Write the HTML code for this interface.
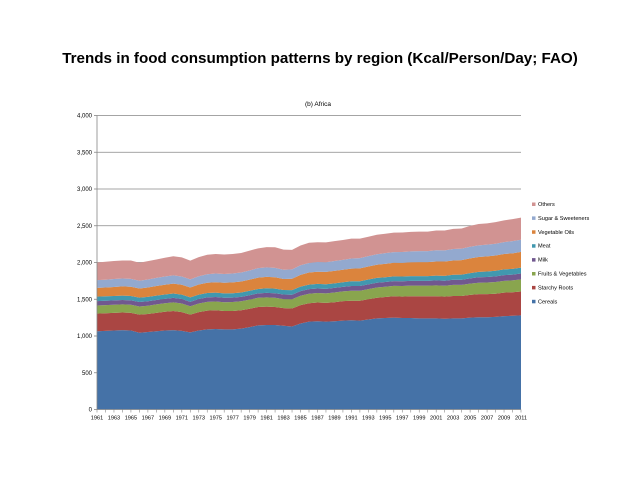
<!DOCTYPE html>
<html><head><meta charset="utf-8"><style>
body{margin:0;background:#fff;width:638px;height:479px;overflow:hidden;font-family:"Liberation Sans",sans-serif}
svg text{font-family:"Liberation Sans",sans-serif}
</style></head><body>
<svg id="c" width="638" height="479">
<text x="320" y="63" text-anchor="middle" font-size="15.2" font-weight="bold" fill="#000">Trends in food consumption patterns by region (Kcal/Person/Day; FAO)</text>
<text x="318" y="106" text-anchor="middle" font-size="6.5" fill="#000">(b) Africa</text>
<g id="grid"></g><g id="areas"></g><g id="axes"></g><g id="legend"></g>
</svg>
<script>
const years=[];for(let y=1961;y<=2011;y++)years.push(y);
const cereals=[1065,1070,1075,1080,1075,1045,1055,1065,1075,1080,1070,1050,1075,1090,1095,1090,1090,1100,1120,1145,1150,1150,1140,1130,1170,1195,1200,1195,1200,1210,1215,1210,1225,1240,1245,1250,1245,1245,1240,1240,1240,1235,1240,1240,1250,1255,1255,1260,1270,1275,1280];
const starchy=[240,240,240,240,240,245,245,250,255,260,255,240,250,255,255,250,250,250,250,250,250,245,240,245,250,250,255,255,260,265,265,270,275,280,285,290,290,295,300,300,300,300,305,305,310,315,315,315,320,320,325];
const fruits=[110,110,110,110,110,112,112,115,115,118,118,115,118,120,120,120,122,122,125,125,125,125,122,125,128,130,130,130,132,132,135,135,138,140,140,142,145,145,145,145,148,148,150,150,152,155,158,160,160,162,165];
const milk=[60,60,60,60,60,60,60,60,60,60,60,60,60,60,60,60,60,60,60,60,62,62,62,62,62,62,62,62,62,62,65,65,65,65,65,65,65,65,65,65,68,68,70,70,72,74,75,76,78,78,80];
const meat=[60,60,60,60,60,60,60,60,60,60,60,60,60,60,60,60,60,60,60,60,62,62,62,62,62,62,62,62,62,62,65,65,65,65,65,65,65,65,65,65,66,67,68,70,72,74,75,76,78,78,80];
const oils=[120,120,122,125,125,125,128,130,132,135,135,135,138,140,142,145,148,150,152,155,155,155,150,155,160,165,165,168,170,170,172,175,178,180,182,185,185,188,190,190,192,195,195,198,200,202,205,208,210,212,215];
const sugar=[105,105,108,108,108,105,108,110,112,112,112,110,112,115,118,118,120,122,125,128,130,128,125,128,130,130,132,132,135,135,138,140,140,142,145,145,148,148,150,150,152,152,155,155,158,158,160,160,162,165,165];
const others=[240,245,245,245,250,245,250,250,255,260,260,255,260,265,265,265,265,265,270,270,275,280,275,265,270,275,270,270,270,270,270,265,265,265,265,265,265,265,265,265,270,270,275,275,285,290,290,295,295,300,300];
const seriesNames=["Cereals","Starchy Roots","Fruits & Vegetables","Milk","Meat","Vegetable Oils","Sugar & Sweeteners","Others"];
const seriesData=[cereals,starchy,fruits,milk,meat,oils,sugar,others];
const colors=["#4572a7","#aa4643","#89a54e","#71588f","#4198af","#db843d","#93a9cf","#d19392"];
const yTicks=[0,500,1000,1500,2000,2500,3000,3500,4000];
const X0=97,X1=521,Y0=409.5,Y1=115.5;
const xs=y=>X0+(y-1961)*(X1-X0)/50;
const ys=v=>Y0-v*(Y0-Y1)/4000;
const NS="http://www.w3.org/2000/svg";
function mk(t,a,p){const e=document.createElementNS(NS,t);for(const k in a)e.setAttribute(k,a[k]);p.appendChild(e);return e;}
const grid=document.getElementById('grid'),areas=document.getElementById('areas'),axes=document.getElementById('axes'),legend=document.getElementById('legend');
yTicks.forEach(t=>{
 if(t>0){const l=mk('line',{x1:X0,x2:X1,y1:ys(t),y2:ys(t),stroke:'#868686','stroke-width':0.8},grid);
 
 }
 const tx=mk('text',{x:X0-5,y:ys(t)+2.2,'text-anchor':'end','font-size':6,fill:'#000'},axes);tx.textContent=t.toLocaleString('en-US');
 
 
 mk('line',{x1:X0-3,x2:X0,y1:ys(t),y2:ys(t),stroke:'#868686','stroke-width':0.8},axes);
});
const cum=years.map(()=>0);
seriesData.forEach((s,si)=>{
 const lo=cum.slice();s.forEach((v,i)=>cum[i]+=v);
 let d='M'+years.map((y,i)=>xs(y)+','+ys(cum[i])).join(' L');
 for(let i=years.length-1;i>=0;i--)d+=' L'+xs(years[i])+','+ys(lo[i]);
 const p=mk('path',{d:d+'Z',fill:colors[si]},areas);
 
 
});
mk('line',{x1:X0,x2:X0,y1:Y1,y2:Y0,stroke:'#868686','stroke-width':0.8},axes);
mk('line',{x1:X0,x2:X1,y1:Y0,y2:Y0,stroke:'#868686','stroke-width':0.8},axes);
years.forEach((y,i)=>{
 mk('line',{x1:xs(y),x2:xs(y),y1:Y0,y2:Y0+3,stroke:'#868686','stroke-width':0.6},axes);
 if(i%2===0){const t=mk('text',{x:xs(y),y:Y0+10,'text-anchor':'middle','font-size':5.6,fill:'#000'},axes);t.textContent=y;
 
 }
});
for(let k=7;k>=0;k--){
 const yy=206+(7-k)*13.9;
 const r=mk('rect',{x:532,y:yy-3.5,width:3.5,height:3.5,fill:colors[k]},legend);
 
 
 const t=mk('text',{x:538,y:yy,'font-size':5.6,fill:'#000'},legend);t.textContent=seriesNames[k];
 
 
}
</script>
</body></html>
